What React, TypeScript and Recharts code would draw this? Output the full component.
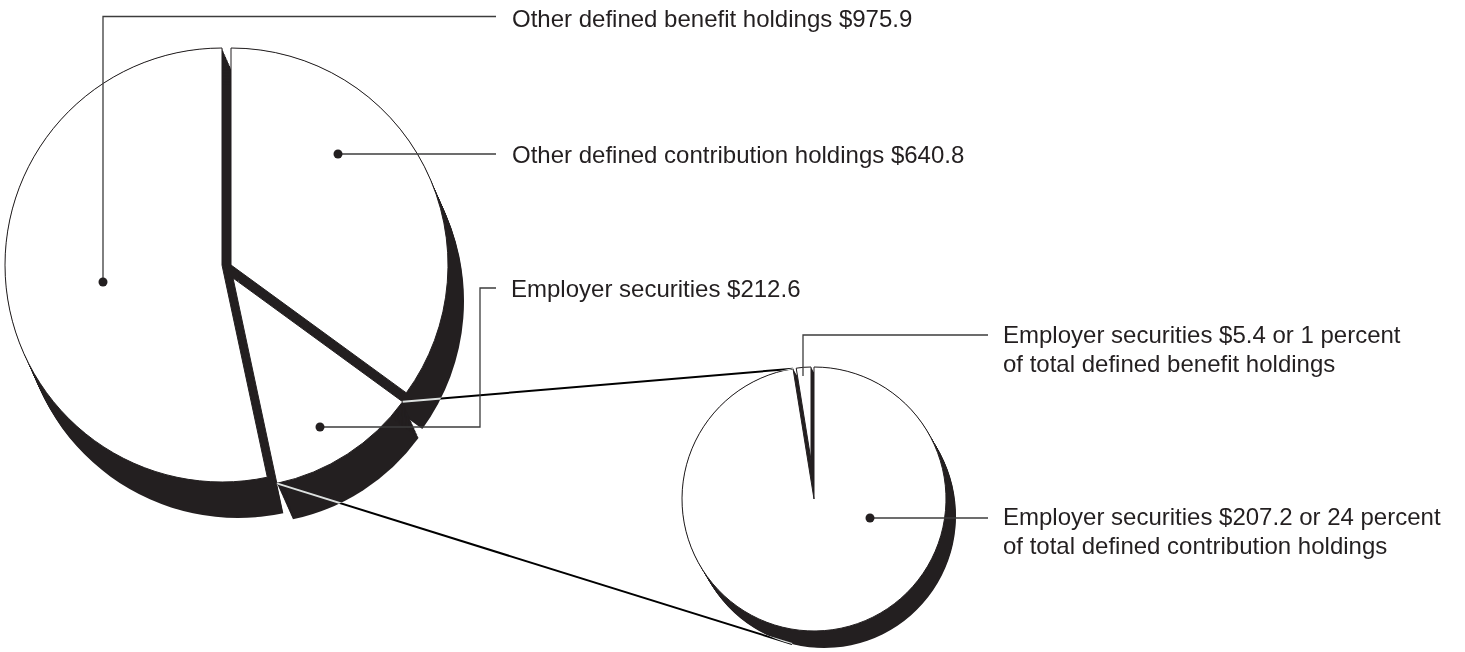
import React from 'react';
import { PieChart, Pie, Cell } from 'recharts';

// big pie, clockwise from 12 o'clock
const mainNames = ['Other defined contribution holdings', 'Employer securities', 'Other defined benefit holdings'];
const mainValues = [640.8, 212.6, 975.9];

// employer securities split, counter-clockwise from 12 o'clock
const splitNames = ['Employer securities', 'Employer securities'];
const splitValues = [5.4, 207.2];
const splitPlans = ['defined benefit', 'defined contribution'];

const INK = '#231f20';
const W = 1465;
const H = 652;

// exploded slices: apex and radius of each face, plus extrusion depth
const bigCenters = [[231, 265], [233, 278], [222, 265]];
const bigRadii = [217, 210, 217];
const bigDepth = [16, 36];
const smallCenters = [[811, 460], [814, 499]];
const smallRadii = [93, 132];
const smallDepth = [10, 17];
const STEPS = 24;

const sum = (a: number[]) => a.reduce((s, v) => s + v, 0);
const rad = (deg: number) => (deg * Math.PI) / 180;
const onCircle = (c: number[], r: number, deg: number) => [c[0] + r * Math.cos(rad(deg)), c[1] - r * Math.sin(rad(deg))];

// each Pie gets its own copy of the rows, so no two pies share a data array
const mainRows = () => mainNames.map((name, i) => ({ name, value: mainValues[i] }));
const splitRows = () => splitNames.map((name, i) => ({ name: `${name} (${splitPlans[i]})`, value: splitValues[i] }));

function slicePie(key: string, rows: () => any[], idx: number, cx: number, cy: number, r: number, start: number, end: number, fill: string, stroke: string) {
  const data = rows();
  return (
    <Pie
      key={key}
      id={key}
      data={data}
      dataKey="value"
      nameKey="name"
      cx={cx}
      cy={cy}
      innerRadius={0}
      outerRadius={r}
      startAngle={start}
      endAngle={end}
      isAnimationActive={false}
      label={false}
      labelLine={false}
      stroke="none"
    >
      {data.map((_, j) => (
        <Cell key={j} fill={j === idx ? fill : 'none'} stroke={j === idx ? stroke : 'none'} strokeWidth={1} />
      ))}
    </Pie>
  );
}

function pieSet(prefix: string, rows: () => any[], centers: number[][], radii: number[], depth: number[], start: number, end: number) {
  const shadows: any[] = [];
  const faces: any[] = [];
  centers.forEach((c, i) => {
    for (let k = 0; k <= STEPS; k++) {
      const t = k / STEPS;
      shadows.push(slicePie(`${prefix}s${i}-${k}`, rows, i, c[0] + depth[0] * t, c[1] + depth[1] * t, radii[i], start, end, INK, 'none'));
    }
    faces.push(slicePie(`${prefix}f${i}`, rows, i, c[0], c[1], radii[i], start, end, '#ffffff', INK));
  });
  return { shadows, faces };
}

const big = pieSet('b', mainRows, bigCenters, bigRadii, bigDepth, 90, -270);
const small = pieSet('m', splitRows, smallCenters, smallRadii, smallDepth, 90, 450);

const overlay: React.CSSProperties = { position: 'absolute', left: 0, top: 0, pointerEvents: 'none' };

function Connectors() {
  const mainTotal = sum(mainValues);
  const esStart = 90 - (360 * mainValues[0]) / mainTotal;
  const esEnd = 90 - (360 * (mainValues[0] + mainValues[1])) / mainTotal;
  const p1 = onCircle(bigCenters[1], bigRadii[1], esStart);
  const p2 = onCircle(bigCenters[1], bigRadii[1], esEnd);
  const holeEdge = 90 + (360 * splitValues[0]) / sum(splitValues);
  const q1 = onCircle(smallCenters[1], smallRadii[1], holeEdge);
  const q2 = onCircle([smallCenters[1][0] + smallDepth[0], smallCenters[1][1] + smallDepth[1]], smallRadii[1], -104);
  // white lines in difference mode: black on paper, white across the shadows
  return (
    <svg width={W} height={H} style={{ ...overlay, mixBlendMode: 'difference' }}>
      <line x1={p1[0]} y1={p1[1]} x2={q1[0]} y2={q1[1]} stroke="#ffffff" strokeWidth={2} />
      <line x1={p2[0]} y1={p2[1]} x2={q2[0]} y2={q2[1]} stroke="#ffffff" strokeWidth={2} />
    </svg>
  );
}

function Annotations() {
  const dbTotal = mainValues[2] + splitValues[0];
  const dcTotal = mainValues[0] + splitValues[1];
  const pct = [Math.round((100 * splitValues[0]) / dbTotal), Math.round((100 * splitValues[1]) / dcTotal)];

  const text = { fontFamily: '"Liberation Sans", Arial, Helvetica, sans-serif', fontSize: 24, fill: INK };
  const lead = { stroke: '#3c3c3c', strokeWidth: 1.3, fill: 'none' };

  return (
    <svg width={W} height={H} style={overlay}>
      <polyline points="103,282 103,16.5 496,16.5" {...lead} />
      <circle cx={103} cy={282} r={4.5} fill={INK} />
      <text x={512} y={27} {...text}>{`${mainNames[2]} $${mainValues[2].toFixed(1)}`}</text>

      <polyline points="338,154 496,154" {...lead} />
      <circle cx={338} cy={154} r={4.5} fill={INK} />
      <text x={512} y={163} {...text}>{`${mainNames[0]} $${mainValues[0].toFixed(1)}`}</text>

      <polyline points="320,427 480,427 480,288 496,288" {...lead} />
      <circle cx={320} cy={427} r={4.5} fill={INK} />
      <text x={511} y={297} {...text}>{`${mainNames[1]} $${mainValues[1].toFixed(1)}`}</text>

      <polyline points="803,376 803,335 988,335" {...lead} />
      <text x={1003} y={343} {...text}>{`${splitNames[0]} $${splitValues[0].toFixed(1)} or ${pct[0]} percent`}</text>
      <text x={1003} y={372} {...text}>{`of total ${splitPlans[0]} holdings`}</text>

      <polyline points="870,518 988,518" {...lead} />
      <circle cx={870} cy={518} r={4.5} fill={INK} />
      <text x={1003} y={525} {...text}>{`${splitNames[1]} $${splitValues[1].toFixed(1)} or ${pct[1]} percent`}</text>
      <text x={1003} y={554} {...text}>{`of total ${splitPlans[1]} holdings`}</text>
    </svg>
  );
}

export default function App() {
  return (
    <div style={{ position: 'absolute', left: 0, top: 0, width: W, height: H, background: '#ffffff' }}>
      <PieChart width={W} height={H} margin={{ top: 0, right: 0, bottom: 0, left: 0 }}>
        {big.shadows}
        {small.shadows}
        {big.faces}
        {small.faces}
      </PieChart>
      <Connectors />
      <Annotations />
    </div>
  );
}
